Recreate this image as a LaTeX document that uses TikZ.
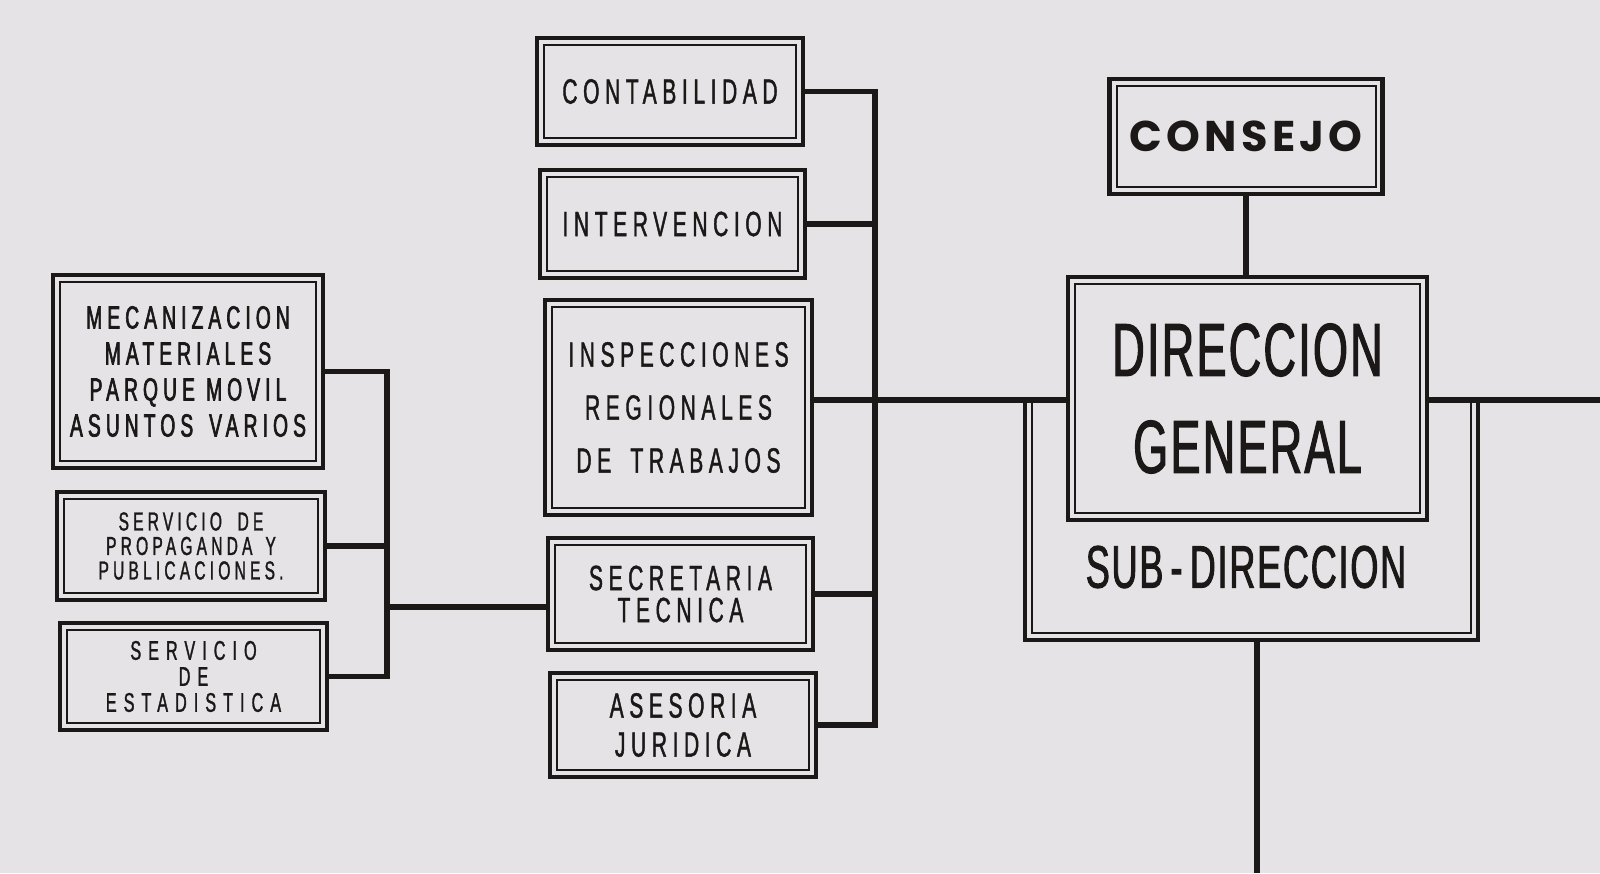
\documentclass[tikz,border=0pt]{standalone}
\usepackage{fontspec}
\setmainfont{Liberation Sans}
\newfontfamily\lettering[FakeStretch=0.6,FakeBold=1.2,LetterSpace=16]{Liberation Sans}
\newfontfamily\biglettering[FakeStretch=0.6,FakeBold=1.5,LetterSpace=3]{Liberation Sans}
\newfontfamily\consejofont[LetterSpace=10]{Poppins}
\usetikzlibrary{positioning,calc}
\definecolor{paper}{RGB}{229,227,229}
\definecolor{ink}{RGB}{28,24,24}

\begin{document}
\begin{tikzpicture}[x=1pt,y=-1pt,
box/.style={draw=ink,line width=4.5pt,fill=paper,inner sep=0pt,align=center,text=ink,
  path picture={\draw[ink,line width=2pt]
    ([shift={(7pt,7pt)}]path picture bounding box.south west) rectangle
    ([shift={(-7pt,-7pt)}]path picture bounding box.north east);}},
link/.style={draw=ink,line width=5.5pt}]
\fill[paper] (0,0) rectangle (1600,873);
\useasboundingbox (0,0) rectangle (1600,873);

% left group
\node[box,minimum width=270pt,minimum height=193pt,font={\lettering\addfontfeatures{FakeBold=2}\fontsize{32}{36}\selectfont}] (meca) at (188,371.5) {MECANIZACION\\MATERIALES\\PARQUE\hspace{0.35em}MOVIL\\ASUNTOS\hspace{0.5em}VARIOS};
\node[box,minimum width=268pt,minimum height=108pt,font={\lettering\fontsize{26}{24.5}\selectfont}] (propa) at (191,546) {SERVICIO\hspace{0.6em}DE\\PROPAGANDA\hspace{0.5em}Y\\PUBLICACIONES.};
\node[box,minimum width=267pt,minimum height=107pt,font={\lettering\addfontfeatures{LetterSpace=26}\fontsize{27}{26}\selectfont}] (estad) at (193.5,676.5) {SERVICIO\\DE\\ESTADISTICA};

% middle group
\node[box,minimum width=266pt,minimum height=107pt,font={\lettering\fontsize{35}{37}\selectfont}] (conta) at (670,91.5) {CONTABILIDAD};
\node[box,minimum width=265pt,minimum height=108pt,font={\lettering\fontsize{35}{37}\selectfont}] (interv) at (672.5,224) {INTERVENCION};
\node[box,minimum width=267pt,minimum height=215pt,font={\lettering\fontsize{35}{53}\selectfont}] (inspec) at (678.5,407.5) {INSPECCIONES\\REGIONALES\\DE\hspace{0.55em}TRABAJOS};
\node[box,minimum width=265pt,minimum height=112pt,font={\lettering\fontsize{35}{32}\selectfont}] (secre) at (680.5,594) {SECRETARIA\\TECNICA};
\node[box,minimum width=266pt,minimum height=104pt,font={\lettering\fontsize{35}{39}\selectfont}] (aseso) at (683,725) {ASESORIA\\JURIDICA};

% right group
\node[box,minimum width=273pt,minimum height=115pt,font={\consejofont\bfseries\fontsize{43}{43}\selectfont}] (consejo) at (1246,136.5) {CONSEJO};
\node[box,minimum width=359pt,minimum height=243pt,font={\biglettering\fontsize{75}{97}\selectfont}] (dg) at (1247.5,398.5) {DIRECCION\\GENERAL};
\node[minimum width=453pt,minimum height=240pt,inner sep=0pt] (subdir) at (1251.5,520) {};
\node[text=ink,font={\biglettering\fontsize{60}{60}\selectfont}] (subtxt) at (1246,567) {SUB\hspace{0.12em}-\hspace{0.12em}DIRECCION};

\coordinate (bus1) at (387,607);
\coordinate (bus2) at (875,400);
\coordinate (rightend) at (1600,400);
\coordinate (downend) at (1257,873);

% sub-direccion frame, open at the top
\draw[ink,line width=4.5pt] (subdir.north west) -- (subdir.south west) -- (subdir.south east) -- (subdir.north east);
\draw[ink,line width=2pt] ([xshift=7pt]subdir.north west) -- ([shift={(7pt,7pt)}]subdir.south west)
  -- ([shift={(-7pt,7pt)}]subdir.south east) -- ([xshift=-7pt]subdir.north east);

\draw[link] (meca.east) -| (bus1) |- (estad.east);
\draw[link] (propa.east) -- (propa.east -| bus1);
\draw[link] (bus1) -- (bus1 -| secre.west);
\draw[link] (conta.east) -| (bus2) |- (aseso.east);
\draw[link] (interv.east) -- (interv.east -| bus2);
\draw[link] (secre.east) -- (secre.east -| bus2);
\draw[link] (bus2 -| inspec.east) -- (bus2 -| dg.west);
\draw[link] (bus2 -| dg.east) -- (rightend);
\draw[link] (consejo.south) -- (consejo.south |- dg.north);
\draw[link] (subdir.south -| downend) -- (downend);
\end{tikzpicture}
\end{document}
